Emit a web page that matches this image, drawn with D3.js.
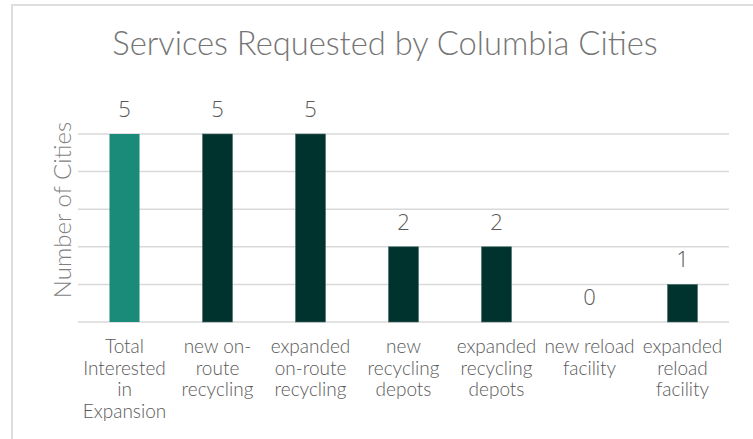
<!DOCTYPE html>
<html>
<head>
<meta charset="utf-8">
<script src="https://cdn.jsdelivr.net/npm/d3@7"></script>
<style>
  body { margin: 0; background: #fff; }
</style>
</head>
<body>
<div id="chart-area"></div>
<script>
// chart data
var categories = [
    ["Total", "Interested", "in", "Expansion"],
    ["new on-", "route", "recycling"],
    ["expanded", "on-route", "recycling"],
    ["new", "recycling", "depots"],
    ["expanded", "recycling", "depots"],
    ["new reload", "facility"],
    ["expanded", "reload", "facility"]
];
var values = [5, 5, 5, 2, 2, 0, 1];
var yTicks = [0, 1, 2, 3, 4, 5];

var W = 753, H = 439;
var plot = {left: 78, right: 729, top: 134, bottom: 322};

var svg = d3.select("#chart-area").append("svg")
    .attr("width", W)
    .attr("height", H);

// outer frame
svg.append("rect")
    .attr("x", 12).attr("y", 5)
    .attr("width", W).attr("height", H)
    .style("fill", "#fff")
    .style("stroke", "#dedede")
    .style("stroke-width", 2);

var x = d3.scaleBand()
    .domain(d3.range(categories.length))
    .range([plot.left, plot.right])
    .paddingInner(0.677)
    .paddingOuter(0.677 / 2);

var y = d3.scaleLinear()
    .domain([0, 5])
    .range([plot.bottom, plot.top]);

// gridlines
svg.append("g")
    .selectAll("line")
    .data(yTicks)
    .enter().append("line")
    .attr("x1", plot.left)
    .attr("x2", plot.right)
    .attr("y1", function(d) { return y(d); })
    .attr("y2", function(d) { return y(d); })
    .style("stroke", "#d9d9d9")
    .style("stroke-width", 1.5);

// bars
svg.append("g")
    .selectAll("rect")
    .data(values)
    .enter().append("rect")
    .attr("x", function(d, i) { return x(i); })
    .attr("y", function(d) { return y(d); })
    .attr("width", x.bandwidth())
    .attr("height", function(d) { return y(0) - y(d); })
    .style("fill", function(d, i) { return i == 0 ? "#1b8b79" : "#01332e"; })
    .style("stroke", function(d, i) { return i == 0 ? "none" : "#4d6f6a"; })
    .style("stroke-width", 0.6);

// data labels
svg.append("g")
    .selectAll("text")
    .data(values)
    .enter().append("text")
    .attr("x", function(d, i) { return x(i) + x.bandwidth() / 2; })
    .attr("y", function(d) { return y(d) - 17; })
    .style("text-anchor", "middle")
    .style("font-family", "'Open Sans', 'Liberation Sans', sans-serif")
    .style("font-weight", 300)
    .style("font-size", "22px")
    .style("fill", "#595959")
    .text(function(d) { return d; });

// category labels
var xl = svg.append("g")
    .selectAll("text")
    .data(categories)
    .enter().append("text")
    .attr("x", function(d, i) { return x(i) + x.bandwidth() / 2; })
    .attr("y", 353)
    .style("text-anchor", "middle")
    .style("font-family", "Lato, sans-serif")
    .style("font-weight", 300)
    .style("font-size", "19px")
    .style("fill", "#595959");

xl.selectAll("tspan")
    .data(function(d) { return d; })
    .enter().append("tspan")
    .attr("x", function() { return d3.select(this.parentNode).attr("x"); })
    .attr("dy", function(d, i) { return i == 0 ? 0 : 21.7; })
    .text(function(d) { return d; });

// title
svg.append("text")
    .attr("x", 385)
    .attr("y", 55)
    .style("text-anchor", "middle")
    .style("font-family", "Lato, sans-serif")
    .style("font-weight", 300)
    .style("font-size", "32.7px")
    .style("fill", "#757575")
    .text("Services Requested by Columbia Cities");

// y axis title
svg.append("text")
    .attr("transform", "translate(71,210) rotate(-90)")
    .style("text-anchor", "middle")
    .style("font-family", "Lato, sans-serif")
    .style("font-weight", 300)
    .style("font-size", "24px")
    .style("fill", "#7f7f7f")
    .text("Number of Cities");
</script>
</body>
</html>
